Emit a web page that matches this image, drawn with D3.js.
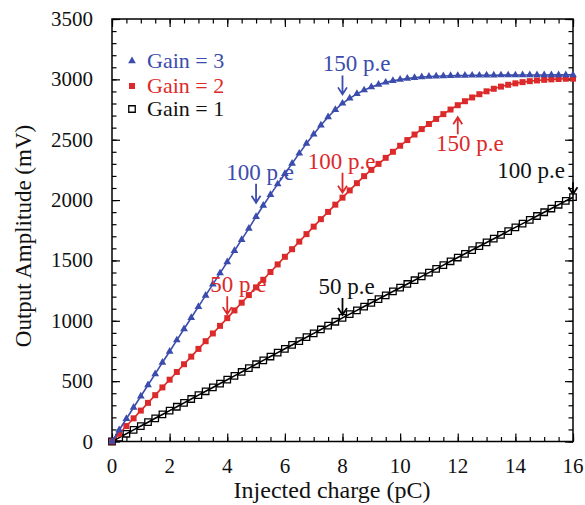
<!DOCTYPE html>
<html>
<head>
<meta charset="utf-8">
<script src="https://cdn.jsdelivr.net/npm/d3@7"></script>
<style>
  html, body { margin: 0; padding: 0; background: #fff; }
  svg { display: block; }
  text { font-family: "Liberation Serif", "Times New Roman", serif; }
</style>
</head>
<body>
<svg id="chart" width="585" height="505"></svg>
<script>
// Injected charge (pC), sampled every 0.25 pC
const charge = [0,0.25,0.5,0.75,1,1.25,1.5,1.75,2,2.25,2.5,2.75,3,3.25,3.5,3.75,4,4.25,4.5,4.75,5,5.25,5.5,5.75,6,6.25,6.5,6.75,7,7.25,7.5,7.75,8,8.25,8.5,8.75,9,9.25,9.5,9.75,10,10.25,10.5,10.75,11,11.25,11.5,11.75,12,12.25,12.5,12.75,13,13.25,13.5,13.75,14,14.25,14.5,14.75,15,15.25,15.5,15.75,16];

// Output amplitude (mV) for each gain setting
const gain3 = [0,95,188,282,375,468,560,654,746,840,932,1025,1117,1210,1302,1395,1487,1580,1672,1765,1862,1955,2045,2132,2218,2303,2387,2468,2546,2620,2688,2749,2801,2843,2880,2911,2937,2958,2975,2988,2998,3007,3014,3019,3023,3026,3028,3030,3031,3032,3033,3033,3034,3034,3035,3035,3035,3036,3036,3036,3036,3037,3037,3037,3037];
const gain2 = [0,64,128,192,256,320,384,448,512,576,640,703,767,831,895,958,1022,1086,1150,1213,1277,1340,1404,1467,1530,1593,1656,1718,1780,1842,1902,1962,2020,2080,2140,2198,2250,2300,2350,2400,2450,2497,2543,2588,2630,2672,2712,2750,2786,2819,2850,2877,2901,2922,2940,2955,2967,2977,2985,2991,2996,3000,3003,3005,3006];
const gain1 = [0,32,64,96,128,160,192,224,256,288,320,352,384,416,448,480,512,544,576,608,640,672,704,736,768,800,832,864,896,928,960,992,1024,1055,1086,1118,1149,1180,1211,1243,1274,1305,1336,1368,1399,1430,1461,1493,1524,1555,1586,1618,1649,1680,1711,1743,1774,1805,1836,1868,1899,1930,1961,1993,2024];

const xTicks = [0,2,4,6,8,10,12,14,16];
const yTicks = [0,500,1000,1500,2000,2500,3000,3500];
const legendLabels = ["Gain = 3", "Gain = 2", "Gain = 1"];

// Photo-electron markers: [series, label, charge, direction]
const annotations = [
  ["g3", "150 p.e", 8, "down"],
  ["g3", "100 p.e", 5, "down"],
  ["g2", "100 p.e", 8, "down"],
  ["g2", "150 p.e", 12, "up"],
  ["g2", "50 p.e", 4, "down"],
  ["g1", "50 p.e", 8, "down"],
  ["g1", "100 p.e", 16, "down"]
];

const BLUE = "#3b4cad", RED = "#dc2a2a", BLACK = "#000";
const colors = { g3: BLUE, g2: RED, g1: BLACK };

const svg = d3.select("#chart");
const plotLeft = 112, plotRight = 573, plotTop = 19, plotBottom = 441.5;

const x = d3.scaleLinear().domain([0, 16]).range([plotLeft, plotRight]);
const y = d3.scaleLinear().domain([0, 3500]).range([plotBottom, plotTop]);

// Frame with inward ticks on all four sides
const majorLen = 8, minorLen = 4.5;
const xMinor = d3.range(0, 16.001, 0.5);
const yMinor = d3.range(0, 3500.1, 100);

function tickRow(gen, transform) {
  const g = svg.append("g").attr("transform", transform);
  g.call(gen);
  g.select(".domain").remove();
  g.selectAll("line").attr("stroke", "#000").attr("stroke-width", 1.2);
  g.selectAll("text").remove();
  return g;
}

// bottom
tickRow(d3.axisTop(x).tickValues(xMinor).tickSize(minorLen).tickFormat(""), `translate(0,${plotBottom})`);
tickRow(d3.axisTop(x).tickValues(xTicks).tickSize(majorLen).tickFormat(""), `translate(0,${plotBottom})`);
// top
tickRow(d3.axisBottom(x).tickValues(xMinor).tickSize(minorLen).tickFormat(""), `translate(0,${plotTop})`);
tickRow(d3.axisBottom(x).tickValues(xTicks).tickSize(majorLen).tickFormat(""), `translate(0,${plotTop})`);
// left
tickRow(d3.axisRight(y).tickValues(yMinor).tickSize(minorLen).tickFormat(""), `translate(${plotLeft},0)`);
tickRow(d3.axisRight(y).tickValues(yTicks).tickSize(majorLen).tickFormat(""), `translate(${plotLeft},0)`);
// right
tickRow(d3.axisLeft(y).tickValues(yMinor).tickSize(minorLen).tickFormat(""), `translate(${plotRight},0)`);
tickRow(d3.axisLeft(y).tickValues(yTicks).tickSize(majorLen).tickFormat(""), `translate(${plotRight},0)`);

svg.append("rect")
  .attr("x", plotLeft).attr("y", plotTop)
  .attr("width", plotRight - plotLeft).attr("height", plotBottom - plotTop)
  .attr("fill", "none").attr("stroke", "#000").attr("stroke-width", 1.5);

// Tick labels
svg.append("g").selectAll("text").data(xTicks).join("text")
  .attr("x", d => x(d)).attr("y", 473)
  .attr("text-anchor", "middle").attr("font-size", 21).attr("fill", "#111")
  .text(d => d);

svg.append("g").selectAll("text").data(yTicks).join("text")
  .attr("x", 93).attr("y", d => y(d) + 7)
  .attr("text-anchor", "end").attr("font-size", 21).attr("fill", "#111")
  .text(d => d);

// Axis titles
svg.append("text")
  .attr("x", 332).attr("y", 498)
  .attr("text-anchor", "middle").attr("font-size", 24).attr("fill", "#111")
  .text("Injected charge (pC)");

svg.append("text")
  .attr("transform", "translate(31,236) rotate(-90)")
  .attr("text-anchor", "middle").attr("font-size", 23).attr("fill", "#111")
  .text("Output Amplitude (mV)");

// Series
const series = [
  { key: "g3", values: gain3, color: BLUE, shape: "tri" },
  { key: "g2", values: gain2, color: RED, shape: "sq" },
  { key: "g1", values: gain1, color: BLACK, shape: "open" }
];

const line = d3.line().x(d => x(d[0])).y(d => y(d[1]));

const symTri = d3.symbol().type(d3.symbolTriangle).size(26);
const symSq = d3.symbol().type(d3.symbolSquare).size(36);
const symOpen = d3.symbol().type(d3.symbolSquare).size(42);

function drawMarker(sel, shape, color) {
  if (shape === "tri") sel.attr("d", symTri()).attr("fill", color);
  else if (shape === "sq") sel.attr("d", symSq()).attr("fill", color);
  else sel.attr("d", symOpen()).attr("fill", "none").attr("stroke", color).attr("stroke-width", 1.3);
}

// draw black first so colored curves sit above it
[...series].reverse().forEach(s => {
  const pts = charge.map((c, i) => [c, s.values[i]]);
  const g = svg.append("g");
  g.append("path").datum(pts).attr("d", line)
    .attr("fill", "none").attr("stroke", s.color).attr("stroke-width", 1.6);
  g.selectAll("path.m").data(pts).join("path").attr("class", "m")
    .attr("transform", d => `translate(${x(d[0])},${y(d[1])})`)
    .call(sel => drawMarker(sel, s.shape, s.color));
});

// Legend
const legendY = [61, 86, 109];
series.forEach((s, i) => {
  svg.append("path")
    .attr("transform", `translate(132,${legendY[i]})`)
    .call(sel => drawMarker(sel, s.shape, s.color));
  svg.append("text")
    .attr("x", 147).attr("y", legendY[i] + 7)
    .attr("font-size", 22).attr("fill", s.color === BLACK ? "#111" : s.color)
    .text(legendLabels[i]);
});

// Photo-electron annotations: label and arrow placed relative to the curve point
const valueAt = (key, c) => {
  const arr = key === "g3" ? gain3 : key === "g2" ? gain2 : gain1;
  return arr[charge.indexOf(c)];
};
const labelOffset = {
  "g3|150 p.e": { dx: 14, tipGap: 9, shaft: 19 },
  "g3|100 p.e": { dx: 4, tipGap: 14, shaft: 19 },
  "g2|100 p.e": { dx: -1, tipGap: 5, shaft: 20 },
  "g2|150 p.e": { dx: 12, tipGap: 12, shaft: 17 },
  "g2|50 p.e": { dx: 11, tipGap: 4, shaft: 18 },
  "g1|50 p.e": { dx: 4, tipGap: 3, shaft: 17 },
  "g1|100 p.e": { dx: -42, tipGap: 3, shaft: 12 }
};

annotations.forEach(([key, label, c, dir]) => {
  const o = labelOffset[key + "|" + label];
  const color = colors[key];
  const px = x(c), py = y(valueAt(key, c));
  const g = svg.append("g");
  let tipY, baseY, textY;
  if (dir === "down") {
    tipY = py - o.tipGap;
    baseY = tipY - o.shaft;
    textY = baseY - 4;
  } else {
    tipY = py + o.tipGap;
    baseY = tipY + o.shaft;
    textY = baseY + 17;
  }
  const s = dir === "down" ? -1 : 1;
  g.append("path")
    .attr("d", `M${px},${baseY}L${px},${tipY}M${px - 4.5},${tipY + s * 7}L${px},${tipY}L${px + 4.5},${tipY + s * 7}`)
    .attr("fill", "none").attr("stroke", color).attr("stroke-width", 1.8);
  g.append("text")
    .attr("x", px + o.dx).attr("y", textY)
    .attr("text-anchor", "middle").attr("font-size", 23)
    .attr("fill", color === BLACK ? "#111" : color)
    .text(label);
});
</script>
</body>
</html>
